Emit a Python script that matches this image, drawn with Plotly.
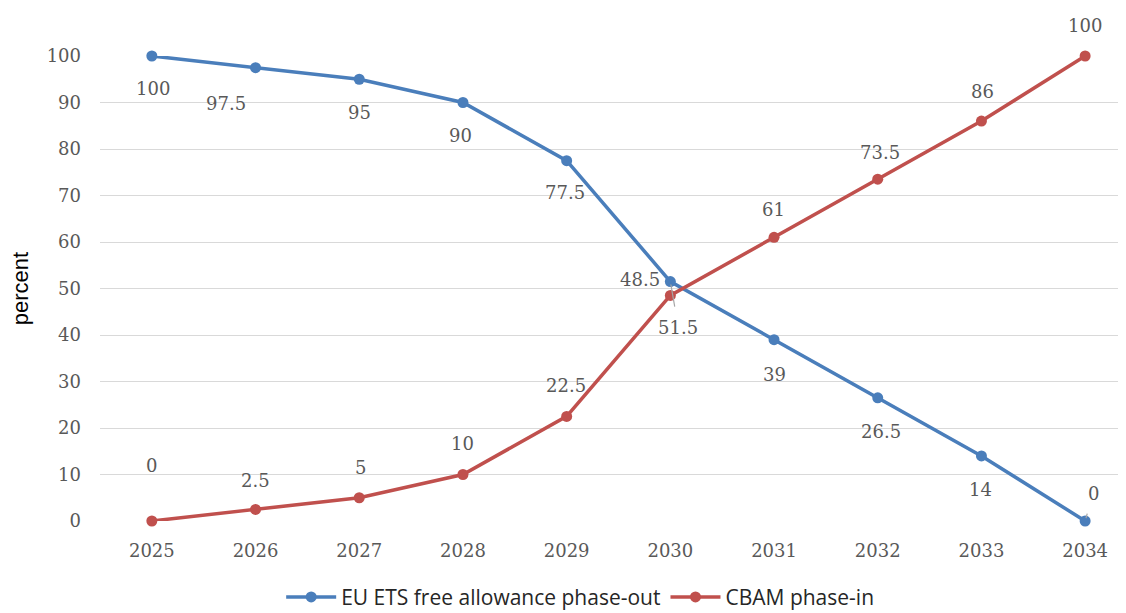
import plotly.graph_objects as go

years = [2025, 2026, 2027, 2028, 2029, 2030, 2031, 2032, 2033, 2034]
ets_free = [100, 97.5, 95, 90, 77.5, 51.5, 39, 26.5, 14, 0]
cbam = [0, 2.5, 5, 10, 22.5, 48.5, 61, 73.5, 86, 100]

# label pixel offsets (style)
ets_off = [(1, -32), (-30, -36), (0, -33), (-2, -33), (-2, -32), (8, -46), (0, -35), (3, -34), (-1, -34), (8, 28)]
cbam_off = [(0, 56), (0, 29), (1, 30), (0, 31), (-1, 31), (-30, 16), (-1, 28), (2, 27), (1, 30), (0, 31)]
leader_ets = {5, 9}

BLUE = "#4a7ebb"
RED = "#c0504d"
LABEL_FONT = dict(family="DejaVu Serif, serif", size=18, color="#595959")

fig = go.Figure()
fig.add_trace(go.Scatter(x=years, y=ets_free, mode="lines+markers", name="EU ETS free allowance phase-out",
                         line=dict(color=BLUE, width=3.5), marker=dict(size=11, color=BLUE), cliponaxis=False))
fig.add_trace(go.Scatter(x=years, y=cbam, mode="lines+markers", name="CBAM phase-in",
                         line=dict(color=RED, width=3.5), marker=dict(size=11, color=RED), cliponaxis=False))

def fmt(v):
    return str(int(v)) if float(v).is_integer() else str(v)

for i, (yr, v) in enumerate(zip(years, ets_free)):
    dx, dy = ets_off[i]
    if i in leader_ets:
        fig.add_annotation(x=yr, y=v, xref="x", yref="y", text=fmt(v), font=LABEL_FONT,
                           showarrow=True, arrowhead=0, arrowwidth=1.2, arrowcolor="#a6a6a6",
                           ax=dx, ay=-dy, standoff=3, startstandoff=9)
    else:
        fig.add_annotation(x=yr, y=v, xref="x", yref="y", text=fmt(v), font=LABEL_FONT,
                           showarrow=False, xshift=dx, yshift=dy)

for i, (yr, v) in enumerate(zip(years, cbam)):
    dx, dy = cbam_off[i]
    fig.add_annotation(x=yr, y=v, xref="x", yref="y", text=fmt(v), font=LABEL_FONT,
                       showarrow=False, xshift=dx, yshift=dy)

fig.update_layout(
    width=1118, height=605,
    margin=dict(l=92, r=0, t=48, b=92, autoexpand=False),
    paper_bgcolor="white", plot_bgcolor="white",
    showlegend=True,
    legend=dict(orientation="h", x=0.468, xanchor="center", y=-0.12, yanchor="top",
                font=dict(family="Open Sans, sans-serif", size=21, color="#262626"),
                itemwidth=50),
    xaxis=dict(range=[2024.5, 2024.5 + 9.894], tickvals=years, ticktext=[str(y) for y in years],
               showgrid=False, showline=False, zeroline=False,
               ticks="", tickfont=LABEL_FONT, ticklabelstandoff=17),
    yaxis=dict(range=[0, 100], dtick=10, showgrid=True, gridcolor="#d9d9d9", gridwidth=1,
               zeroline=False, showline=False, ticks="", tickfont=LABEL_FONT, ticklabelstandoff=18,
               title=dict(text="percent", font=dict(family="Liberation Sans, Arial, sans-serif", size=22, color="black"),
                          standoff=20)),
)

fig.write_html("out.html")
